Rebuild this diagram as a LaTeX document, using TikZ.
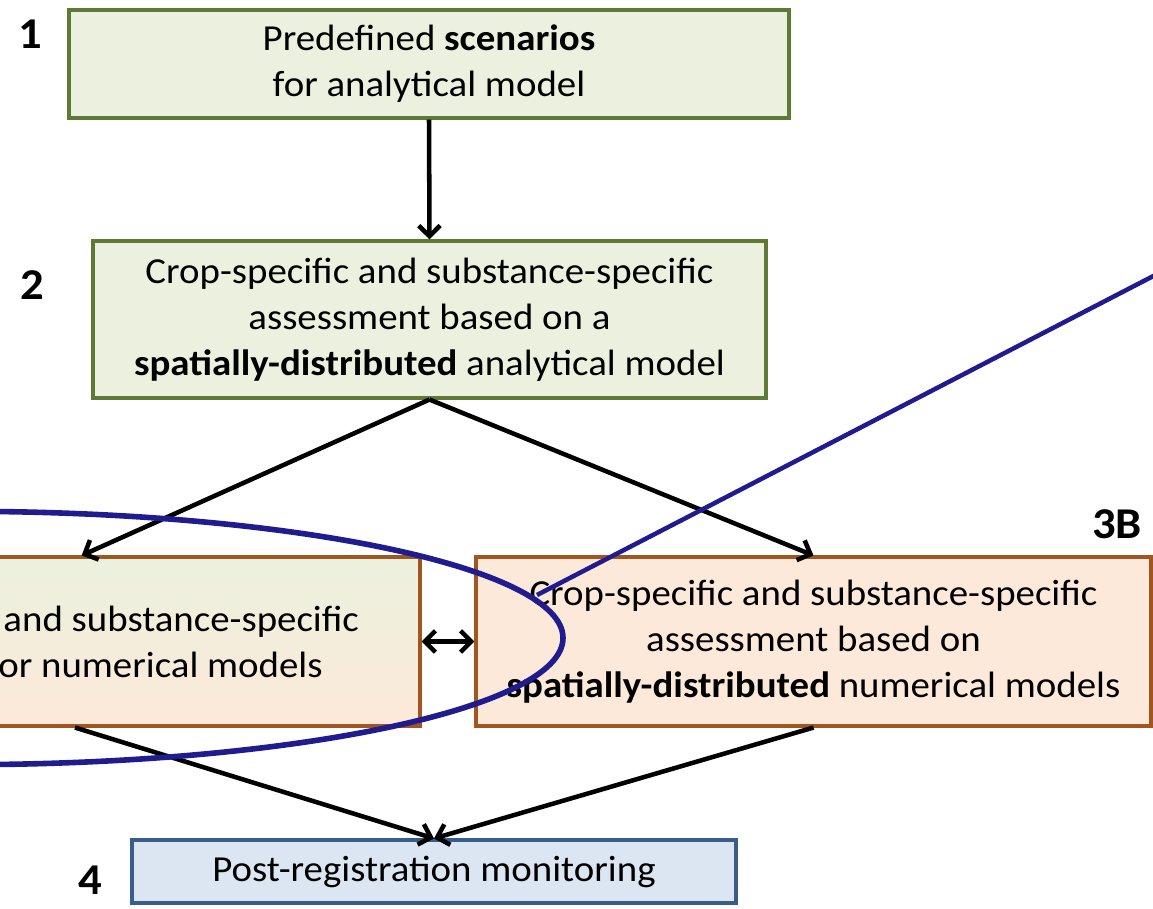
\documentclass[tikz,border=0pt]{standalone}
\usepackage{fontspec}
\setmainfont[FakeStretch=1.06]{Carlito}
\usetikzlibrary{arrows.meta}
\definecolor{gfill}{HTML}{EBF1DE}
\definecolor{gdraw}{HTML}{5F7A35}
\definecolor{pfill}{HTML}{FDE9D9}
\definecolor{bdraw}{HTML}{A0561E}
\definecolor{bfill}{HTML}{DCE6F2}
\definecolor{bldraw}{HTML}{385D8A}
\definecolor{navy}{HTML}{201C90}
\tikzset{
  box/.style={rectangle, line width=2.3pt, align=center, inner sep=0pt,
    font=\fontsize{27.5}{34.5}\selectfont},
  greenbox/.style={box, draw=gdraw, fill=gfill},
  peachbox/.style={box, draw=bdraw, fill=pfill},
  mixbox/.style={box, draw=bdraw, top color=gfill, bottom color=pfill},
  bluebox/.style={box, draw=bldraw, fill=bfill},
  num/.style={font=\fontsize{33}{33}\selectfont\bfseries, inner sep=0pt},
  conn/.style={line width=3.4pt, -{Straight Barb[length=8pt,width=16pt]}},
  dconn/.style={line width=3.4pt, {Straight Barb[length=8pt,width=16pt]}-{Straight Barb[length=8pt,width=16pt]}},
  navyline/.style={draw=navy, line width=4.2pt}
}
\begin{document}
\begin{tikzpicture}[x=0.75pt,y=-0.75pt]
\useasboundingbox (0,0) rectangle (1153,909);
\clip (0,0) rectangle (1153,909);
\node[greenbox, minimum width=540pt, minimum height=81pt] (b1) at (429,64)
  {Predefined \textbf{scenarios}\\for analytical model};
\node[greenbox, minimum width=504.75pt, minimum height=117.75pt] (b2) at (429.5,319.5)
  {Crop-specific and substance-specific\\assessment based on a\\\textbf{spatially-distributed} analytical model};
\node[mixbox, minimum width=517.5pt, minimum height=126.75pt] (b3a) at (75,641.5)
  {Crop-specific and substance-specific\\\textbf{scenarios} for numerical models};
\node[peachbox, minimum width=506.25pt, minimum height=126.75pt] (b3b) at (813.5,641.5)
  {Crop-specific and substance-specific\\assessment based on\\\textbf{spatially-distributed} numerical models};
\node[bluebox, minimum width=453pt, minimum height=47.25pt] (b4) at (434,871.5)
  {Post-registration monitoring};
\node[num] (n1) at (30,34) {1};
\node[num] (n2) at (32,285) {2};
\node[num] (n3b) at (1117,524) {3B};
\node[num] (n4) at (90,880) {4};
\draw[conn] (b1.south) -- (b2.north);
\draw[conn] (b2.south) -- ([xshift=5pt]b3a.north);
\draw[conn] (b2.south) -- (b3b.north);
\draw[conn] (b3a.south) -- (b4.north);
\draw[conn] (b3b.south) -- (b4.north);
\draw[dconn] (b3a.east) -- (b3b.west);
\coordinate (ec) at (-37,638);
\draw[navyline] (ec) ellipse [x radius=450pt, y radius=95pt];
\coordinate (ls) at (537,595);
\coordinate (le) at (1165,270);
\draw[navyline, line width=3.4pt] (ls) -- (le);
\end{tikzpicture}
\end{document}
